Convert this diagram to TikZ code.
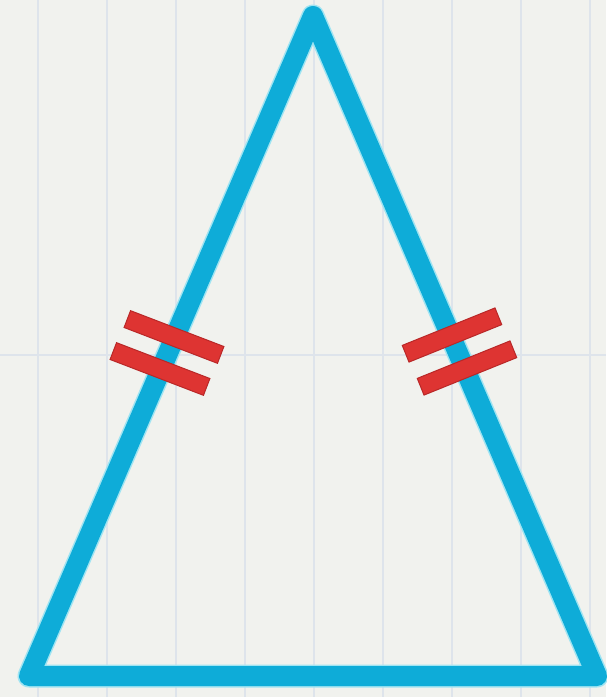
\documentclass[tikz,border=0pt]{standalone}
\begin{document}
\begin{tikzpicture}[x=1pt,y=-1pt,
  gridline/.style={draw=gridc,line width=1.3pt},
  sideglow/.style={draw=glowc,line width=23pt,line join=round,line cap=round},
  side/.style={draw=bluec,line width=20pt,line join=round,line cap=round},
  tick/.style={rectangle,fill=redc,draw=redd,line width=1pt,minimum width=100pt,minimum height=18pt,inner sep=0pt}]
\definecolor{bgc}{RGB}{241,242,238}
\definecolor{gridc}{RGB}{222,228,235}
\definecolor{bluec}{RGB}{14,172,216}
\definecolor{glowc}{RGB}{160,228,242}
\definecolor{redc}{RGB}{222,52,50}
\definecolor{redd}{RGB}{185,40,40}
\fill[bgc] (0,0) rectangle (606,697);
\useasboundingbox (0,0) rectangle (606,697);
\foreach \x in {38,107,176,245,314,383,452,521,590} \draw[gridline] (\x,0) -- (\x,697);
\draw[gridline] (0,355) -- (606,355);
\coordinate (A) at (313,16);
\coordinate (B) at (29,676);
\coordinate (C) at (597,676);
\draw[sideglow] (A) -- (B) -- (C) -- cycle;
\draw[side] (A) -- (B) -- (C) -- cycle;
\node[tick,rotate=-21] (l1) at (174,337) {};
\node[tick,rotate=-21] (l2) at (160,369) {};
\node[tick,rotate=22] (r1) at (452,335) {};
\node[tick,rotate=22] (r2) at (467,368) {};
\end{tikzpicture}
\end{document}
